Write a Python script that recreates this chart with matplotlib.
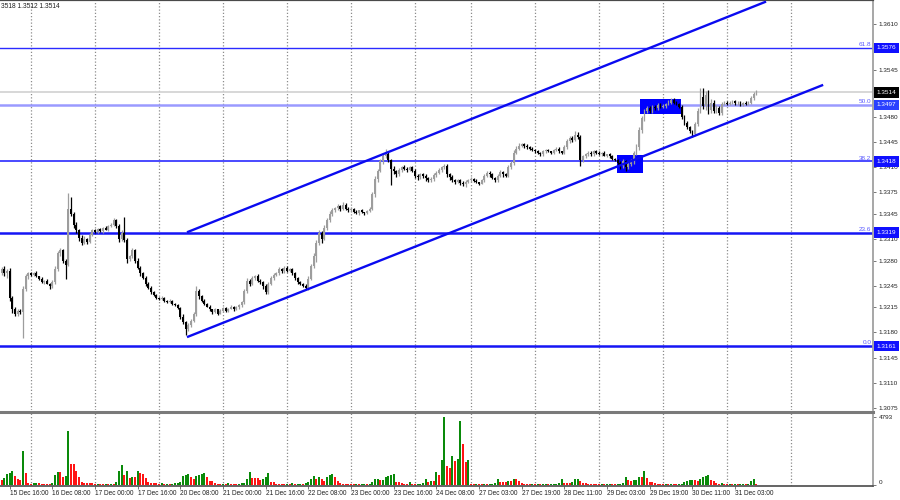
import numpy as np
import matplotlib
matplotlib.use("Agg")
import matplotlib.pyplot as plt
import matplotlib.transforms as mtrans
from matplotlib.patches import Rectangle

plt.rcParams['font.family'] = ['Liberation Sans', 'DejaVu Sans']

# ---- H1 bars, 15 Dec 13:00 .. 31 Dec 11:00 ----
# prices as points above 1.3000, one row per trading day
days = ["15 Dec", "16 Dec", "17 Dec", "20 Dec", "21 Dec", "22 Dec", "23 Dec",
        "24 Dec", "27 Dec", "28 Dec", "29 Dec", "30 Dec", "31 Dec"]
first_hour = 13
first_open = 262

closes = [
    [268, 262, 266, 228, 212, 206, 210, 208, 240, 258, 262],
    [260, 263, 258, 255, 250, 252, 248, 244, 250, 268, 290, 294, 280, 274, 352, 345, 330, 322, 312, 305, 310, 306, 316, 322],
    [320, 324, 321, 326, 323, 328, 330, 336, 328, 310, 318, 308, 282, 286, 294, 280, 270, 262, 256, 248, 242, 236, 232, 228],
    [226, 228, 224, 222, 224, 220, 218, 214, 202, 194, 184, 190, 196, 205, 238, 230, 224, 220, 216, 212, 208, 212, 206, 210],
    [214, 210, 213, 216, 212, 215, 218, 222, 238, 252, 248, 256, 258, 252, 250, 244, 236, 248, 256, 260, 262, 268, 265, 270],
    [266, 268, 262, 256, 250, 248, 245, 242, 255, 272, 286, 305, 318, 310, 326, 336, 345, 350, 353, 356, 352, 358, 352, 350],
    [352, 348, 346, 350, 347, 346, 349, 352, 372, 394, 405, 418, 425, 428, 420, 408, 404, 400, 406, 410, 408, 406, 410, 405],
    [398, 396, 400, 398, 395, 392, 394, 399, 402, 406, 410, 412, 400, 396, 392, 390, 392, 388, 386, 390, 392],
    [394, 391, 389, 387, 392, 398, 402, 400, 395, 392, 398, 403, 400, 398, 410, 416, 430, 436, 440, 442, 440, 438, 436, 434],
    [432, 430, 428, 432, 434, 432, 430, 434, 436, 432, 430, 438, 446, 450, 448, 455, 452, 420, 425, 428, 430, 428, 432, 430],
    [428, 430, 426, 428, 425, 422, 420, 416, 412, 418, 410, 414, 418, 430, 438, 462, 478, 488, 492, 488, 494, 492, 496, 494],
    [495, 498, 500, 504, 500, 498, 494, 480, 472, 466, 460, 456, 470, 488, 508, 495, 510, 490, 500, 488, 492, 485, 498, 500],
    [498, 500, 502, 499, 500, 497, 500, 498, 500, 506, 512, 514],
]
wick_up = [
    [3, 4, 2, 3, 2, 4, 3, 2, 5, 3, 2],
    [2, 1, 2, 1, 2, 1, 2, 1, 3, 4, 3, 4, 2, 2, 22, 16, 3, 4, 2, 3, 4, 2, 3, 2],
    [2, 1, 2, 1, 2, 1, 2, 3, 2, 3, 4, 22, 3, 2, 4, 2, 3, 2, 2, 3, 2, 2, 1, 2],
    [1, 2, 1, 1, 2, 1, 1, 2, 2, 3, 2, 3, 3, 4, 7, 3, 2, 2, 1, 2, 1, 2, 1, 2],
    [1, 2, 1, 2, 1, 2, 1, 2, 3, 4, 3, 3, 2, 3, 2, 2, 3, 2, 2, 3, 2, 3, 2, 2],
    [2, 1, 2, 2, 1, 2, 1, 2, 3, 3, 4, 3, 4, 3, 4, 3, 4, 3, 2, 3, 2, 3, 2, 2],
    [2, 1, 2, 1, 2, 1, 2, 2, 3, 4, 3, 4, 3, 8, 3, 2, 3, 2, 3, 2, 3, 2, 2, 2],
    [2, 3, 2, 2, 3, 2, 2, 3, 2, 3, 2, 3, 2, 2, 3, 2, 2, 2, 3, 2, 2],
    [2, 1, 2, 1, 2, 2, 3, 2, 2, 1, 2, 3, 2, 2, 3, 3, 4, 3, 3, 2, 2, 2, 2, 2],
    [2, 2, 1, 2, 2, 2, 1, 2, 2, 2, 1, 3, 3, 3, 3, 5, 4, 3, 2, 2, 2, 2, 2, 2],
    [2, 1, 2, 1, 2, 2, 1, 2, 3, 3, 2, 3, 3, 3, 4, 4, 3, 3, 3, 3, 3, 3, 3, 3],
    [3, 2, 3, 3, 2, 2, 2, 2, 2, 2, 2, 2, 3, 4, 12, 12, 6, 8, 5, 4, 4, 3, 3, 2],
    [2, 2, 2, 1, 2, 2, 1, 2, 2, 3, 3, 4],
]
wick_dn = [
    [2, 3, 6, 4, 5, 3, 3, 3, 36, 2, 3],
    [1, 2, 1, 2, 1, 2, 1, 3, 2, 3, 2, 4, 3, 19, 2, 3, 4, 3, 5, 4, 2, 3, 2, 2],
    [1, 2, 1, 2, 1, 2, 1, 2, 3, 4, 3, 2, 5, 3, 2, 3, 2, 3, 2, 3, 2, 2, 2, 1],
    [1, 1, 2, 1, 1, 2, 1, 2, 3, 3, 8, 2, 2, 2, 2, 3, 2, 2, 1, 2, 2, 1, 2, 1],
    [2, 1, 2, 1, 2, 1, 2, 2, 2, 3, 4, 2, 3, 2, 3, 4, 2, 2, 2, 3, 2, 2, 3, 2],
    [2, 2, 2, 3, 2, 2, 2, 2, 3, 2, 2, 8, 3, 6, 2, 3, 2, 3, 2, 2, 3, 2, 2, 3],
    [2, 2, 1, 2, 1, 2, 1, 2, 2, 3, 4, 2, 3, 2, 3, 23, 3, 4, 2, 3, 2, 3, 2, 2],
    [3, 4, 2, 3, 4, 3, 2, 3, 2, 2, 3, 2, 3, 4, 3, 3, 2, 3, 2, 3, 2],
    [2, 2, 1, 2, 1, 2, 2, 3, 2, 2, 2, 2, 3, 2, 2, 3, 3, 2, 2, 2, 3, 2, 2, 2],
    [2, 1, 2, 2, 2, 1, 2, 2, 2, 2, 2, 2, 3, 2, 3, 2, 3, 8, 3, 2, 2, 2, 2, 2],
    [1, 2, 1, 2, 2, 2, 2, 3, 4, 3, 5, 3, 2, 3, 3, 4, 4, 3, 3, 2, 3, 2, 3, 2],
    [2, 2, 2, 2, 2, 2, 2, 3, 3, 3, 3, 4, 3, 3, 3, 4, 5, 6, 4, 3, 3, 3, 2, 2],
    [2, 2, 2, 2, 2, 2, 2, 2, 2, 2, 2, 2],
]
volumes = [
    [350, 490, 775, 850, 990, 635, 400, 350, 2420, 820, 120],
    [100, 120, 165, 140, 95, 70, 70, 70, 120, 680, 890, 890, 590, 640, 3830, 1480, 1480, 990, 590, 235, 165, 140, 140, 120],
    [70, 75, 70, 70, 80, 70, 75, 70, 190, 990, 1390, 680, 1010, 470, 540, 540, 1010, 870, 775, 470, 235, 165, 165, 120],
    [100, 110, 95, 100, 90, 100, 120, 150, 190, 640, 700, 775, 590, 400, 640, 730, 800, 870, 540, 305, 280, 120, 95, 70],
    [90, 85, 140, 90, 85, 80, 90, 120, 150, 445, 940, 490, 490, 490, 350, 445, 560, 820, 235, 235, 70, 70, 70, 65],
    [90, 85, 110, 80, 90, 100, 85, 140, 190, 420, 640, 445, 590, 445, 305, 590, 680, 775, 590, 280, 120, 95, 70, 70],
    [70, 60, 80, 65, 70, 75, 60, 90, 210, 400, 420, 330, 350, 540, 640, 700, 775, 235, 235, 120, 80, 70, 190, 90],
    [60, 70, 90, 120, 445, 210, 260, 260, 920, 700, 1760, 4770, 1340, 1175, 2040, 1690, 1830, 4510, 2870, 1600, 1760],
    [70, 60, 80, 70, 65, 75, 60, 70, 100, 160, 445, 210, 210, 210, 260, 260, 445, 445, 280, 120, 70, 70, 65, 70],
    [60, 70, 55, 65, 70, 60, 70, 80, 90, 165, 445, 165, 165, 165, 210, 400, 445, 280, 165, 120, 95, 70, 70, 70],
    [60, 70, 60, 75, 80, 70, 65, 80, 90, 165, 540, 350, 280, 330, 350, 590, 590, 1010, 490, 210, 200, 120, 70, 70],
    [70, 90, 80, 100, 85, 70, 90, 100, 190, 280, 330, 350, 350, 280, 400, 590, 640, 730, 350, 260, 120, 70, 120, 70],
    [60, 80, 70, 90, 60, 70, 80, 65, 90, 260, 445, 70],
]
vol_max = 4793

# fibo levels and chart objects
fib_levels = [1.3576, 1.3497, 1.3418, 1.3319, 1.3161]
fib_names = ["61.8", "50.0", "38.2", "23.6", "0.0"]
last_price = 1.3514
price_ticks = [1.3610, 1.3545, 1.3480, 1.3445, 1.3410, 1.3375, 1.3345, 1.3310,
               1.3280, 1.3245, 1.3215, 1.3180, 1.3145, 1.3110, 1.3075]
chan_x = [69.9, 286.2, 307.6]
chan_upper = [1.3320, 1.3640]
chan_lower = [1.3174, 1.3524]
boxes = [(230.7, 240.5, 1.3402, 1.3427), (239.3, 254.7, 1.3484, 1.3505)]
time_labels = [("15 Dec", 16), ("16 Dec", 8), ("17 Dec", 0), ("17 Dec", 16),
               ("20 Dec", 8), ("21 Dec", 0), ("21 Dec", 16), ("22 Dec", 8), ("23 Dec", 0),
               ("23 Dec", 16), ("24 Dec", 8), ("27 Dec", 3), ("27 Dec", 19), ("28 Dec", 11),
               ("29 Dec", 3), ("29 Dec", 19), ("30 Dec", 11), ("31 Dec", 3)]

# ---- build bars ----
c = np.concatenate(closes) / 10000 + 1.3
o = np.r_[first_open / 10000 + 1.3, c[:-1]]
hi = np.maximum(o, c) + np.concatenate(wick_up) / 10000
lo = np.minimum(o, c) - np.concatenate(wick_dn) / 10000
vol = np.concatenate(volumes)
idx = np.arange(len(c))

day_start = {}
pos = 0
for d, row in zip(days, closes):
    day_start[d] = pos - (first_hour if d == days[0] else 0)
    pos += len(row)
grid_bars = [day_start[d] for d in days[1:]] + [day_start[days[-1]] + 24]

# ---- figure ----
fig = plt.figure(figsize=(9, 5), dpi=100)
W, H = 900, 500
ax = fig.add_axes([0, 90 / H, 873 / W, 410 / H])
axv = fig.add_axes([0, 14 / H, 873 / W, 74 / H], sharex=ax)

grid_kw = dict(color='#8c8c8c', lw=0.9, ls=(0, (1, 1.6)), zorder=0)
for g in grid_bars:
    ax.axvline(g, **grid_kw)
    axv.axvline(g, **grid_kw)

# fibo lines
fib_style = [('#2b2bff', 1.0), ('#9a9aff', 1.8), ('#2b2bff', 1.2), ('#1515f5', 1.8), ('#1515f5', 1.8)]
ytrans = mtrans.blended_transform_factory(ax.transAxes, ax.transData)
for lev, name, (col, lw) in zip(fib_levels, fib_names, fib_style):
    ax.axhline(lev, color=col, lw=lw, zorder=1)
    ax.text(0.998, lev + 0.00012, name, transform=ytrans, ha='right', va='bottom',
            fontsize=4.6, color='#5a5aff')
ax.axhline(last_price, color='#d4d4d4', lw=1.3, zorder=0.5)

for x0, x1, p0, p1 in boxes:
    ax.add_patch(Rectangle((x0, p0), x1 - x0, p1 - p0, fc='#0000ff', ec='none', zorder=1.5))

# candles
up = c > o
colors = np.where(up, '#9d9d9d', '#000000')
ax.vlines(idx, lo, hi, colors=colors, lw=0.9, zorder=3)
ax.bar(idx, np.maximum(np.abs(c - o), 0.00005), bottom=np.minimum(o, c), width=0.7,
       color=colors, lw=0, zorder=3)

# channel
ax.plot(chan_x[:2], chan_upper, color='#0a0af0', lw=1.7, zorder=4)
ax.plot([chan_x[0], chan_x[2]], chan_lower, color='#0a0af0', lw=1.7, zorder=4)

ax.yaxis.tick_right()
ax.set_yticks(price_ticks)
ax.set_yticklabels([f"{p:.4f}" for p in price_ticks])
ax.tick_params(axis='y', length=2.5, width=0.6, pad=1.4, labelsize=4.6,
               color='#606060', labelcolor='#202020')
ax.tick_params(axis='x', bottom=False, labelbottom=False)
for s in ['left', 'bottom']:
    ax.spines[s].set_visible(False)
ax.spines['top'].set_color('#4a4a4a')
ax.spines['top'].set_linewidth(1.6)
ax.spines['right'].set_color('#a0a0a0')
ax.spines['right'].set_linewidth(1.3)

# price boxes on the scale
box_cols = ['#1010ff', '#2a40ff', '#1010ff', '#1010ff', '#1010ff']
for lev, bc in zip(fib_levels, box_cols):
    ax.text(1.0045, lev, f"{lev:.4f}", transform=ytrans, ha='left', va='center',
            fontsize=4.6, color='white', clip_on=False, zorder=6,
            bbox=dict(boxstyle='square,pad=0.42', fc=bc, ec='none'))
ax.text(1.0045, last_price, f"{last_price:.4f}", transform=ytrans, ha='left', va='center',
        fontsize=4.6, color='white', clip_on=False, zorder=6,
        bbox=dict(boxstyle='square,pad=0.42', fc='black', ec='none'))

fig.text(1 / W, 1 - 7 / H, "3518 1.3512 1.3514", fontsize=4.8, color='#202020', va='center')

# volumes
vcol = np.where(np.r_[False, vol[1:] > vol[:-1]], '#0a8a0a', '#ff1414')
axv.bar(idx, vol, width=0.75, color=vcol, lw=0, zorder=2)
axv.yaxis.tick_right()
axv.set_yticks([vol_max, 0])
axv.set_yticklabels([str(vol_max), "0"])
axv.tick_params(axis='y', length=2.5, width=0.6, pad=1.4, labelsize=4.6,
                color='#606060', labelcolor='#202020')
axv.get_yticklabels()[1].set_va('bottom')
axv.spines['left'].set_visible(False)
axv.spines['top'].set_color('#7a7a7a')
axv.spines['top'].set_linewidth(2.2)
axv.spines['bottom'].set_color('#4a4a4a')
axv.spines['bottom'].set_linewidth(1.2)
axv.spines['right'].set_color('#a0a0a0')
axv.spines['right'].set_linewidth(1.3)

tpos = [day_start[d] + h for d, h in time_labels]
axv.set_xticks(tpos)
axv.set_xticklabels([f"{d} {h:02d}:00" for d, h in time_labels])
axv.tick_params(axis='x', length=2, width=0.6, pad=1.0, labelsize=4.7,
                color='#606060', labelcolor='#202020')
for t in axv.get_xticklabels():
    t.set_ha('left')

# limits last, so the tick setters do not widen them
ax.set_xlim(-0.63, 326.7)
ax.set_ylim(1.30719, 1.36428)
axv.set_ylim(-70, 5145)

fig.savefig("out.png", dpi=100)
